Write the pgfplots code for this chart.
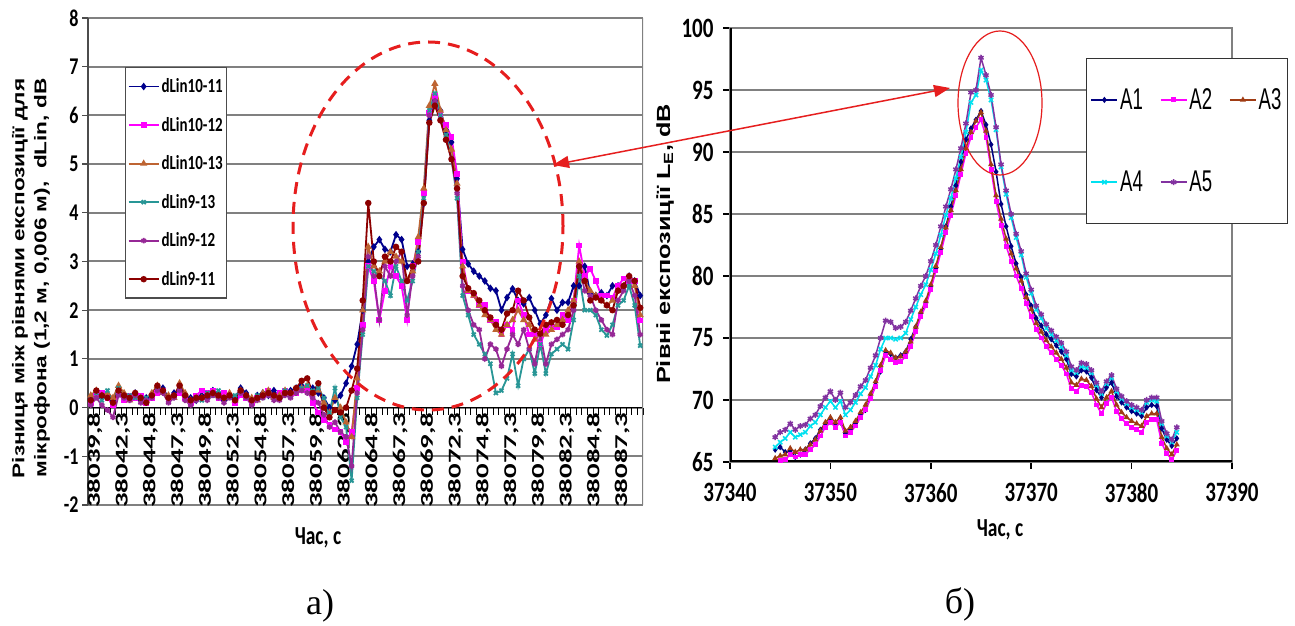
\documentclass[border=0pt]{standalone}
\usepackage{pgfplots}
\pgfplotsset{compat=1.18}
\usepackage{pgfplotstable}
\usepackage{fontspec}
\usetikzlibrary{arrows.meta}
\setmainfont{Liberation Sans}
\newfontfamily\fCal[FakeStretch=0.75]{Carlito}
\newfontfamily\fCalR[FakeStretch=1.6]{Carlito}
\newfontfamily\fArC[FakeStretch=0.62]{Liberation Sans}
\newfontfamily\fArR[FakeStretch=1.33]{Liberation Sans}
\newfontfamily\fTms{Liberation Serif}

\definecolor{cNavy}{RGB}{0,0,140}
\definecolor{cMag}{RGB}{255,0,255}
\definecolor{cBrn}{RGB}{190,100,50}
\definecolor{cTeal}{RGB}{40,150,150}
\definecolor{cPur}{RGB}{150,40,150}
\definecolor{cDred}{RGB}{140,0,0}
\definecolor{rNavy}{RGB}{0,0,128}
\definecolor{rBrn}{RGB}{160,60,20}
\definecolor{rCyan}{RGB}{0,225,240}
\definecolor{rPur}{RGB}{130,50,160}
\definecolor{gridc}{RGB}{128,128,128}
\definecolor{cRed}{RGB}{230,30,30}

\pgfplotstableread{
i b m o c p r
0 0.20 0.10 0.25 0.15 0.05 0.15
1 0.30 0.25 0.35 0.30 0.20 0.35
2 0.20 0.30 0.25 0.15 0.05 0.25
3 0.25 0.20 0.30 0.35 -0.05 0.20
4 0.15 0.05 0.20 0.10 -0.20 0.10
5 0.30 0.30 0.45 0.40 0.25 0.35
6 0.25 0.15 0.30 0.20 0.20 0.25
7 0.20 0.25 0.15 0.25 0.15 0.20
8 0.30 0.20 0.25 0.20 0.25 0.30
9 0.15 0.25 0.20 0.15 0.10 0.20
10 0.20 0.10 0.15 0.20 0.15 0.10
11 0.25 0.20 0.30 0.25 0.20 0.25
12 0.35 0.30 0.45 0.40 0.35 0.45
13 0.40 0.35 0.30 0.35 0.30 0.35
14 0.20 0.15 0.25 0.20 0.10 0.20
15 0.30 0.25 0.20 0.25 0.20 0.25
16 0.35 0.30 0.50 0.40 0.35 0.45
17 0.25 0.20 0.30 0.25 0.15 0.25
18 0.20 0.10 0.15 0.15 0.05 0.15
19 0.15 0.25 0.20 0.20 0.15 0.20
20 0.25 0.35 0.20 0.15 0.20 0.20
21 0.20 0.30 0.25 0.30 0.15 0.25
22 0.35 0.35 0.30 0.25 0.25 0.30
23 0.30 0.20 0.25 0.35 0.20 0.25
24 0.15 0.30 0.20 0.15 0.10 0.20
25 0.25 0.25 0.30 0.20 0.20 0.25
26 0.20 0.10 0.15 0.25 0.15 0.15
27 0.40 0.25 0.35 0.30 0.30 0.35
28 0.30 0.20 0.25 0.20 0.20 0.25
29 0.15 0.10 0.20 0.15 0.05 0.15
30 0.25 0.20 0.15 0.25 0.15 0.20
31 0.30 0.25 0.30 0.20 0.20 0.25
32 0.25 0.35 0.35 0.30 0.25 0.30
33 0.35 0.25 0.20 0.25 0.15 0.25
34 0.20 0.30 0.25 0.20 0.15 0.20
35 0.30 0.35 0.35 0.35 0.25 0.30
36 0.35 0.25 0.30 0.25 0.20 0.30
37 0.40 0.30 0.35 0.35 0.30 0.40
38 0.45 0.35 0.40 0.40 0.35 0.55
39 0.35 0.40 0.45 0.45 0.30 0.60
40 0.40 0.10 0.30 0.35 0.20 0.30
41 0.30 -0.10 0.35 0.40 0.10 0.50
42 0.20 -0.25 0.10 0.20 -0.15 0.00
43 0.00 -0.35 -0.10 -0.10 -0.40 -0.20
44 0.15 -0.45 0.20 0.40 -0.30 -0.05
45 0.25 -0.50 0.00 -0.20 -0.50 -0.10
46 0.50 -0.70 -0.30 -0.40 -0.60 0.00
47 0.85 -0.50 -0.60 -1.50 -1.20 0.35
48 1.30 0.40 0.60 0.20 0.30 0.80
49 2.00 1.70 2.00 1.50 1.60 2.20
50 3.00 2.90 3.30 2.90 3.10 4.20
51 3.30 2.60 2.90 2.80 2.70 3.00
52 3.45 1.80 2.80 2.70 1.80 2.70
53 3.25 2.40 3.00 2.60 2.90 3.10
54 3.20 2.90 3.20 2.30 2.70 3.00
55 3.55 2.70 3.10 2.90 3.00 3.30
56 3.45 2.50 3.00 2.60 3.20 3.20
57 2.90 1.80 2.60 2.20 1.90 2.60
58 2.95 2.90 2.80 2.60 2.70 2.90
59 3.20 3.40 3.50 3.20 3.10 3.00
60 4.20 4.40 4.50 4.30 4.20 4.20
61 5.90 6.05 6.20 6.10 6.00 5.85
62 6.30 6.40 6.65 6.45 6.30 6.20
63 6.10 6.00 6.10 6.00 5.90 5.90
64 5.70 5.80 5.70 5.60 5.50 5.50
65 5.45 5.55 5.30 5.10 5.10 5.10
66 4.70 4.80 4.60 4.30 4.40 4.50
67 3.25 3.00 2.90 2.30 2.50 2.70
68 2.95 2.40 2.40 1.90 2.00 2.45
69 2.80 2.30 2.30 1.50 1.70 2.35
70 2.70 2.10 2.10 1.30 1.60 2.20
71 2.60 2.10 1.90 1.10 1.00 2.00
72 2.45 1.80 1.80 0.90 1.30 1.85
73 2.40 1.75 1.60 0.30 1.20 1.70
74 2.00 1.50 1.50 0.35 0.85 1.60
75 2.26 1.70 1.70 0.60 1.20 1.93
76 2.44 1.60 1.80 1.10 1.50 2.00
77 2.20 2.20 2.00 0.45 1.30 2.40
78 2.13 1.90 1.80 1.00 1.60 2.20
79 2.26 1.50 1.70 1.20 1.20 1.85
80 2.00 1.50 1.40 0.70 0.90 1.60
81 1.72 1.30 1.50 1.30 1.50 1.52
82 1.90 1.60 1.50 0.70 0.90 1.70
83 2.24 1.70 1.60 1.10 1.30 1.75
84 2.00 1.65 1.70 1.20 1.40 1.80
85 2.16 1.90 1.80 1.30 1.50 1.70
86 2.16 1.80 2.00 1.20 1.60 1.90
87 2.50 2.20 2.20 1.80 2.00 2.10
88 2.50 3.33 3.00 2.70 2.90 2.90
89 2.90 2.70 2.60 2.00 2.40 2.60
90 2.34 2.85 2.40 2.00 2.30 2.20
91 2.30 2.60 2.30 1.90 2.00 2.26
92 2.36 2.30 2.20 1.60 1.80 2.20
93 2.30 2.30 2.10 1.48 1.60 2.10
94 2.50 2.26 2.20 1.70 1.50 2.00
95 2.50 2.50 2.40 2.10 2.20 2.40
96 2.50 2.65 2.50 2.20 2.40 2.50
97 2.70 2.60 2.65 2.50 2.60 2.70
98 2.60 2.60 2.50 2.10 2.30 2.60
99 2.30 1.79 1.90 1.27 1.50 2.05
}\tabL

\pgfplotstableread{
t a1 a2 a3 a4 a5
37344.5 66.0 64.9 65.3 66.2 67.0
37345.0 66.2 65.1 65.5 66.6 67.4
37345.5 65.8 65.2 65.6 66.9 67.6
37346.0 65.9 65.6 66.1 67.4 68.1
37346.5 65.4 65.4 65.8 67.0 67.6
37347.0 65.6 65.6 66.0 67.2 67.9
37347.5 66.0 65.6 66.0 67.4 68.0
37348.0 66.5 66.0 66.4 67.9 68.5
37348.5 66.9 66.4 66.8 68.2 68.8
37349.0 67.6 67.1 67.5 68.8 69.5
37349.5 68.1 67.8 68.2 69.4 70.2
37350.0 68.3 68.2 68.6 69.9 70.7
37350.5 67.9 67.8 68.2 69.4 70.0
37351.0 68.2 68.2 68.6 69.9 70.6
37351.5 67.3 67.1 67.5 68.8 69.4
37352.0 67.6 67.4 67.8 69.2 69.8
37352.5 68.1 67.9 68.3 69.8 70.4
37353.0 68.8 68.6 69.0 70.5 71.1
37353.5 69.2 69.2 69.6 71.0 71.6
37354.0 70.2 70.1 70.5 71.9 72.6
37354.5 71.2 71.1 71.5 72.8 73.6
37355.0 72.3 72.4 72.8 74.1 75.0
37355.5 73.9 73.6 74.0 75.0 76.4
37356.0 73.7 73.3 73.8 75.0 76.3
37356.5 73.4 73.0 73.4 74.9 75.8
37357.0 73.6 73.1 73.5 75.0 75.9
37357.5 73.9 73.5 73.9 75.4 76.3
37358.0 74.9 74.3 74.7 76.5 77.2
37358.5 75.9 75.5 75.9 77.5 78.2
37359.0 77.0 76.7 77.1 78.5 79.2
37359.5 77.8 77.6 78.0 79.3 80.0
37360.0 79.1 78.9 79.3 80.5 81.2
37360.5 80.6 80.4 80.8 81.8 82.5
37361.0 82.2 81.9 82.3 83.3 84.0
37361.5 84.0 83.5 83.9 84.9 85.6
37362.0 85.6 84.9 85.3 86.3 87.0
37362.5 87.3 86.5 86.9 87.9 88.6
37363.0 89.2 88.2 88.6 89.6 90.3
37363.5 91.0 89.9 90.3 91.6 92.3
37364.0 91.9 91.2 91.6 94.0 94.8
37364.5 92.6 92.0 92.5 94.6 95.0
37365.0 93.3 92.6 93.2 96.6 97.6
37365.5 92.2 91.2 91.7 95.8 96.2
37366.0 90.6 88.6 89.0 94.2 94.6
37366.5 88.4 86.0 86.5 91.8 92.0
37367.0 85.8 84.1 84.6 88.8 89.0
37367.5 84.0 82.4 83.0 86.6 86.9
37368.0 82.4 81.2 81.8 84.7 85.0
37368.5 81.0 80.0 80.6 83.1 83.4
37369.0 79.9 79.0 79.6 81.7 82.0
37369.5 78.5 77.8 78.3 79.9 80.2
37370.0 77.6 76.7 77.3 78.6 78.9
37370.5 76.6 75.7 76.2 77.3 77.6
37371.0 76.0 75.0 75.5 76.6 76.9
37371.5 75.3 74.3 74.8 75.8 76.1
37372.0 74.9 73.8 74.3 75.3 75.6
37372.5 74.4 73.3 73.8 74.8 75.1
37373.0 73.9 72.8 73.3 74.3 74.6
37373.5 73.3 72.1 72.6 73.6 73.9
37374.0 72.1 70.9 71.4 72.4 72.7
37374.5 71.9 70.7 71.2 72.2 72.4
37375.0 72.4 71.2 71.7 72.7 73.0
37375.5 72.3 71.1 71.6 72.6 72.9
37376.0 71.8 70.6 71.1 72.2 72.4
37376.5 70.8 69.6 70.1 71.2 71.4
37377.0 70.2 68.9 69.4 70.5 70.7
37377.5 71.0 69.7 70.2 71.3 71.5
37378.0 71.4 70.2 70.7 71.8 72.0
37378.5 70.3 69.1 69.6 70.7 70.9
37379.0 69.8 68.5 69.0 70.1 70.3
37379.5 69.4 68.1 68.6 69.7 69.9
37380.0 69.1 67.8 68.3 69.4 69.6
37380.5 68.9 67.6 68.1 69.2 69.4
37381.0 68.7 67.4 67.9 69.0 69.2
37381.5 69.4 68.2 68.7 69.8 70.0
37382.0 69.6 68.4 68.9 70.0 70.2
37382.5 69.5 68.4 68.9 69.9 70.2
37383.0 67.7 66.5 67.0 68.1 68.3
37383.5 66.8 65.7 66.1 67.1 67.3
37384.0 66.3 65.2 65.6 66.6 66.8
37384.5 66.9 65.9 66.4 67.4 67.8
}\tabR

\begin{document}
\begin{tikzpicture}[x=1pt,y=1pt]
\useasboundingbox (0,0) rectangle (1295,626);
\fill[white] (0,0) rectangle (1295,626);

% ---------- left chart ----------
\begin{axis}[
  at={(88pt,121pt)}, anchor=south west, scale only axis,
  width=555pt, height=487pt,
  xmin=-0.5, xmax=99.5, ymin=-2, ymax=8,
  axis x line=middle, axis y line=left,
  hide obscured x ticks=false, hide obscured y ticks=false,
  every inner x axis line/.append style={-},
  every outer y axis line/.append style={-},
  every outer x axis line/.append style={-},
  every inner y axis line/.append style={-},
  x axis line style={black, line width=1.8pt, -},
  y axis line style={gray!60!black, line width=1.5pt, -},
  ytick={-2,-1,...,8},
  ymajorgrids, grid style={gridc, line width=2pt},
  xtick={0,5,...,95},
  xticklabels={{38039,8},{38042,3},{38044,8},{38047,3},{38049,8},{38052,3},{38054,8},{38057,3},{38059,8},{38062,3},{38064,8},{38067,3},{38069,8},{38072,3},{38074,8},{38077,3},{38079,8},{38082,3},{38084,8},{38087,3}},
  minor xtick={-0.5,0.5,...,99.5},
  major x tick style={draw=none},
  minor x tick style={black, line width=1pt},
  minor tick length=7pt, major tick length=6pt, tick align=outside,
  ytick style={gray!60!black, line width=1.2pt},
  /pgf/number format/assume math mode=true,
  yticklabel style={font=\fCal\bfseries\fontsize{24}{24}\selectfont, text=black},
  xticklabel style={font=\fCalR\bfseries\fontsize{18}{18}\selectfont, rotate=90, anchor=east, inner sep=1pt, yshift=-4pt, xshift=2pt},
  legend style={at={(0.067,0.899)}, anchor=north west, draw=gray!60!black, line width=1.2pt, fill=white,
    font=\fCal\bfseries\fontsize{20}{20}\selectfont, row sep=19pt, inner xsep=2pt, inner ysep=9pt,
    cells={anchor=west}},
  legend image code/.code={\draw[mark repeat=2,mark phase=2,#1] plot coordinates {(0pt,0pt) (15pt,0pt) (30pt,0pt)};},
]
\addplot[cNavy, line width=1.8pt, mark=diamond*, mark size=2.4pt] table[x=i,y=b]{\tabL};
\addplot[cMag, line width=1.8pt, mark=square*, mark size=2pt] table[x=i,y=m]{\tabL};
\addplot[cBrn, line width=1.8pt, mark=triangle*, mark size=2.4pt] table[x=i,y=o]{\tabL};
\addplot[cTeal, line width=1.8pt, mark=x, mark size=2.8pt] table[x=i,y=c]{\tabL};
\addplot[cPur, line width=1.8pt, mark=asterisk, mark size=2.8pt] table[x=i,y=p]{\tabL};
\addplot[cDred, line width=1.8pt, mark=*, mark size=2.3pt] table[x=i,y=r]{\tabL};
\legend{dLin10-11,dLin10-12,dLin10-13,dLin9-13,dLin9-12,dLin9-11}
\draw[gridc, line width=1.5pt] (rel axis cs:1,0) -- (rel axis cs:1,1);
\end{axis}

% ---------- right chart ----------
\begin{axis}[
  at={(730pt,164pt)}, anchor=south west, scale only axis,
  width=502pt, height=434pt,
  xmin=37340, xmax=37390, ymin=65, ymax=100,
  xtick={37340,37350,...,37390}, ytick={65,70,...,100},
  ymajorgrids, grid style={gridc, line width=2pt},
  axis line style={gridc, line width=1.5pt},
  tick pos=left, tick align=outside, major tick length=7pt,
  tick style={black, line width=1.5pt},
  /pgf/number format/assume math mode=true,
  /pgf/number format/1000 sep={},
  scaled x ticks=false,
  ticklabel style={font=\fCal\bfseries\fontsize{28}{28}\selectfont},
  xticklabel style={yshift=-11pt},
  yticklabel style={xshift=-6pt},
  legend columns=3,
  legend style={at={(0.709,0.931)}, anchor=north west, draw=gray!40!black, line width=1.5pt, fill=white,
    font=\fArC\fontsize{30}{30}\selectfont, row sep=56pt, inner xsep=4pt, inner ysep=28pt,
    /tikz/every even column/.append style={column sep=15pt},
    cells={anchor=west, inner xsep=1pt}},
  legend image code/.code={\draw[mark repeat=2,mark phase=2,#1] plot coordinates {(0pt,0pt) (13pt,0pt) (26pt,0pt)};},
]
\addplot[rNavy, line width=1.5pt, mark=diamond*, mark size=2pt] table[x=t,y=a1]{\tabR};
\addplot[cMag, line width=1.5pt, mark=square*, mark size=1.7pt] table[x=t,y=a2]{\tabR};
\addplot[rBrn, line width=1.5pt, mark=triangle*, mark size=2pt] table[x=t,y=a3]{\tabR};
\addplot[rCyan, line width=1.5pt, mark=x, mark size=3pt] table[x=t,y=a4]{\tabR};
\addplot[rPur, line width=1.5pt, mark=asterisk, mark size=3pt] table[x=t,y=a5]{\tabR};
\legend{A1,A2,A3,A4,A5}
\draw[black, line width=4pt] (rel axis cs:0,0) -- (rel axis cs:1,0);
\draw[black, line width=3pt] (rel axis cs:0,0) -- (rel axis cs:0,1);
\end{axis}

% ---------- titles ----------
\node[font=\fArR\bfseries\fontsize{17}{17}\selectfont, rotate=90, anchor=east] at (20,551) {Різниця між рівнями експозиції для};
\node[font=\fArR\bfseries\fontsize{17}{17}\selectfont, rotate=90, anchor=east] at (42,551) {мікрофона (1,2 м, 0,006 м),~ dLin, dB};
\node[font=\fCal\bfseries\fontsize{26}{26}\selectfont] at (318,88) {Час, с};
\node[font=\fCal\bfseries\fontsize{26}{26}\selectfont] at (1000,96) {Час, с};
\node[font=\fArR\bfseries\fontsize{19}{19}\selectfont, rotate=90] at (665,382) {Рівні експозиції L\textsubscript{E}, dB};
\node[font=\fTms\fontsize{36}{36}\selectfont] at (320,20) {а)};
\node[font=\fTms\fontsize{36}{36}\selectfont] at (960,22) {б)};

% ---------- annotations ----------
\draw[cRed, line width=3pt, dash pattern=on 12pt off 8pt] (428,400) ellipse [x radius=135, y radius=184];
\draw[cRed, line width=1.2pt] (1000,523) ellipse [x radius=42, y radius=72];
\draw[cRed, line width=1.5pt, {Triangle[length=16pt,width=12pt]}-{Triangle[length=16pt,width=12pt]}] (553,461) -- (950,538);
\end{tikzpicture}
\end{document}
